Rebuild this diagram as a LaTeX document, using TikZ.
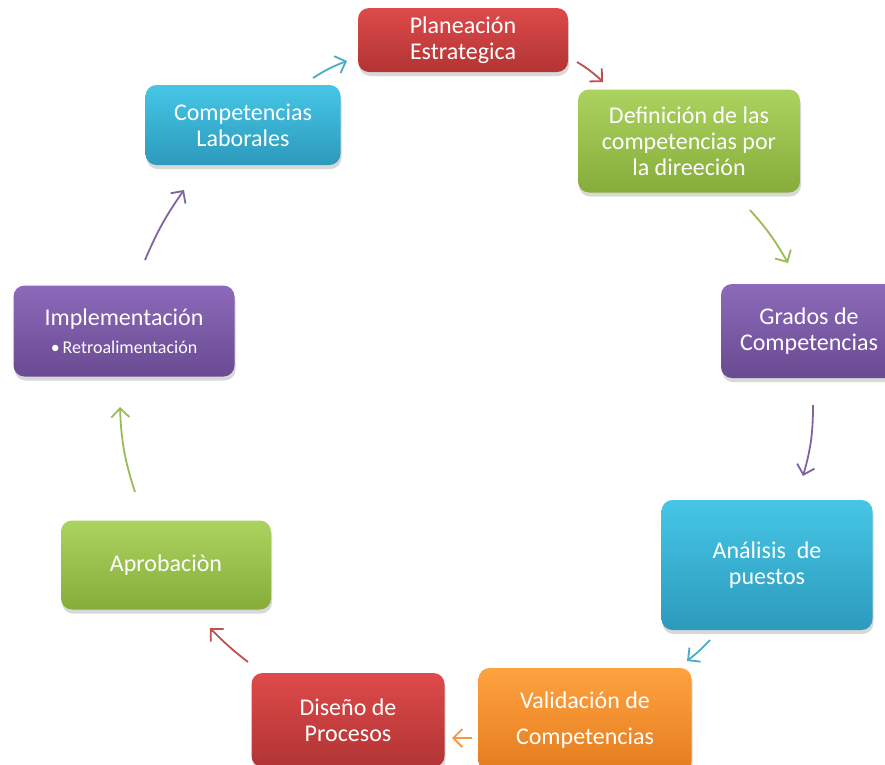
\documentclass[tikz,border=0pt]{standalone}
\usepackage{fontspec}
\setmainfont{Carlito}
\usetikzlibrary{arrows.meta,shadows}
\definecolor{rojo}{HTML}{C0504D}
\definecolor{verde}{HTML}{9BBB59}
\definecolor{morado}{HTML}{8064A2}
\definecolor{azul}{HTML}{4BACC6}
\definecolor{naranja}{HTML}{F79646}
\tikzset{
  caja/.style={rounded corners=11pt, inner sep=0pt, align=center, text=white,
    font=\fontsize{24}{26}\selectfont,
    drop shadow={opacity=0.3, shadow xshift=1pt, shadow yshift=-4pt}},
  cajarojo/.style={caja, top color={rgb,255:red,222;green,74;blue,74}, bottom color={rgb,255:red,178;green,52;blue,52}},
  cajaverde/.style={caja, top color={rgb,255:red,172;green,210;blue,96}, bottom color={rgb,255:red,134;green,172;blue,58}},
  cajamorado/.style={caja, top color={rgb,255:red,140;green,106;blue,186}, bottom color={rgb,255:red,106;green,74;blue,146}},
  cajaazul/.style={caja, top color={rgb,255:red,70;green,198;blue,230}, bottom color={rgb,255:red,44;green,154;blue,188}},
  cajanaranja/.style={caja, top color={rgb,255:red,255;green,162;blue,64}, bottom color={rgb,255:red,228;green,124;blue,30}},
  flecha/.style={line width=1.8pt, -{Straight Barb[length=9pt,width=18pt,line width=1.8pt]}}
}
\begin{document}
\begin{tikzpicture}[x=1pt,y=-1pt]
        \clip (0,0) rectangle (885,764);
        \fill[white] (0,0) rectangle (885,764);
        % cajas
        \node[cajarojo, minimum width=210pt, minimum height=64pt] (plan) at (463,40) {Planeación\\Estrategica};
        \node[cajaverde, minimum width=222pt, minimum height=103pt] (defin) at (689,141) {Definición de las\\competencias por\\la direeción};
        \node[cajamorado, minimum width=176pt, minimum height=94pt] (grados) at (809,331) {Grados de\\Competencias};
        \node[cajaazul, minimum width=211pt, minimum height=130pt] (analisis) at (767,565) {Análisis~ de\\puestos};
        \node[cajanaranja, minimum width=213pt, minimum height=104pt, font=\fontsize{24}{36}\selectfont] (valid) at (585,720) {Validación de\\Competencias};
        \node[cajarojo, minimum width=193pt, minimum height=94pt] (diseno) at (348,720) {Diseño de\\Procesos};
        \node[cajaverde, minimum width=210pt, minimum height=89pt] (aprob) at (166,565) {Aprobaciòn};
        \node[cajamorado, minimum width=221pt, minimum height=91pt] (implem) at (124,331) {Implementación\\[2pt]{\fontsize{18}{20}\selectfont\textbullet\,Retroalimentación}};
        \node[cajaazul, minimum width=195pt, minimum height=80pt] (complab) at (243,125) {Competencias\\Laborales};
        % extremos de las flechas
        \coordinate (s1) at (313,78);  \coordinate (e1) at (347,61);
        \coordinate (s2) at (577,62);  \coordinate (e2) at (603,82);
        \coordinate (s3) at (750,210); \coordinate (e3) at (788,263);
        \coordinate (s4) at (813,405); \coordinate (e4) at (803,476);
        \coordinate (s5) at (710,640); \coordinate (e5) at (687,661);
        \coordinate (s6) at (472,738); \coordinate (e6) at (452,738);
        \coordinate (s7) at (248,662); \coordinate (e7) at (210,628);
        \coordinate (s8) at (135,492); \coordinate (e8) at (120,407);
        \coordinate (s9) at (145,260); \coordinate (e9) at (184,190);
        \draw[flecha, azul] (s1) to[bend left=6] (e1);
        \draw[flecha, rojo] (s2) to[bend left=6] (e2);
        \draw[flecha, verde] (s3) to[bend left=6] (e3);
        \draw[flecha, morado] (s4) to[bend left=8] (e4);
        \draw[flecha, azul] (s5) to[bend left=4] (e5);
        \draw[flecha, naranja] (s6) to (e6);
        \draw[flecha, rojo] (s7) to[bend left=4] (e7);
        \draw[flecha, verde] (s8) to[bend left=8] (e8);
        \draw[flecha, morado] (s9) to[bend left=6] (e9);
    \end{tikzpicture}
\end{document}
